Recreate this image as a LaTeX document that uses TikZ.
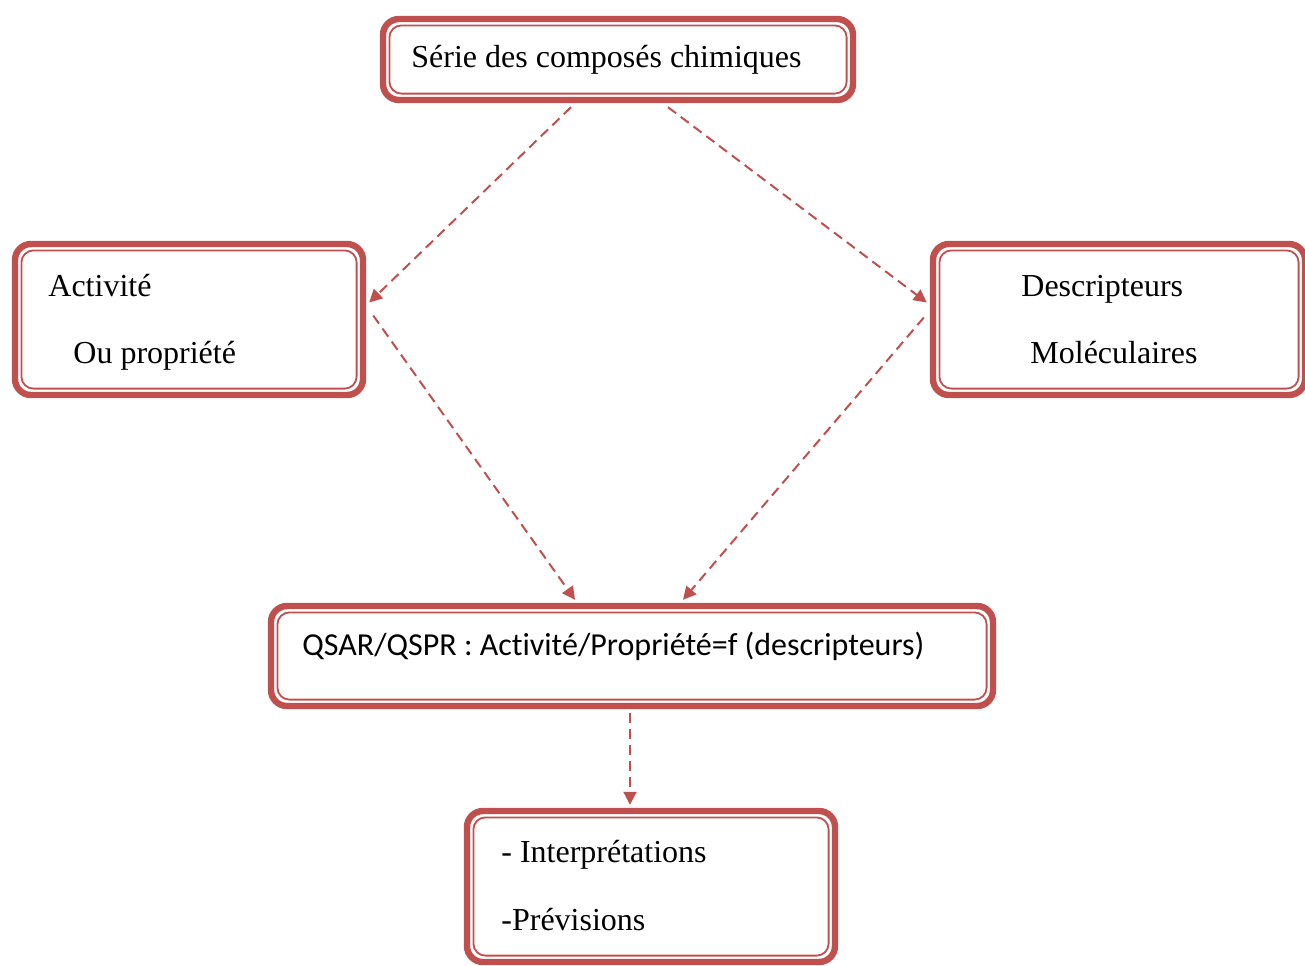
\documentclass[tikz,border=0pt]{standalone}
\usepackage{fontspec}
\setmainfont{Liberation Serif}
\newfontfamily\calibri[Ligatures=NoCommon]{Carlito}
\usetikzlibrary{arrows.meta}
\definecolor{qred}{HTML}{C0504D}
\tikzset{
  qbox/.style={draw=qred,line width=3.2pt,rounded corners=8pt,minimum width=#1,inner sep=0pt,
    path picture={\draw[qred,line width=0.9pt,rounded corners=6pt]
      ([shift={(3.2pt,3.2pt)}]path picture bounding box.south west) rectangle ([shift={(-3.2pt,-3.2pt)}]path picture bounding box.north east);}},
  qtxt/.style={anchor=base west,inner sep=0pt,font=\fontsize{16}{19}\selectfont},
  qarr/.style={draw=qred,line width=1pt,dash pattern=on 5pt off 3pt,-{Triangle[width=6.5pt,length=6.5pt]}}
}
\begin{document}
\begin{tikzpicture}[x=0.5pt,y=-0.5pt]
\useasboundingbox (0,0) rectangle (1305,965);
% boxes
\node[qbox=235pt,minimum height=40.5pt] (serie) at (618,59.5) {};
\node[qbox=174pt,minimum height=75.5pt] (activ) at (189,319.5) {};
\node[qbox=186pt,minimum height=75.5pt] (descr) at (1119,319.5) {};
\node[qbox=361pt,minimum height=50pt] (qsar) at (632,656) {};
\node[qbox=184pt,minimum height=75.5pt] (interp) at (651,886.5) {};
% texts
\node[qtxt] (tserie) at (411,67) {Série des composés chimiques};
\node[qtxt] (tactiv1) at (48,296) {Activité};
\node[qtxt] (tactiv2) at (73,363) {Ou propriété};
\node[qtxt] (tdescr1) at (1021,296) {Descripteurs};
\node[qtxt] (tdescr2) at (1030,363) {Moléculaires};
\node[qtxt,font=\fontsize{16}{19}\calibri] (tqsar) at (302,655) {QSAR/QSPR : Activité/Propriété=f (descripteurs)};
\node[qtxt] (tinterp1) at (501,862) {- Interprétations};
\node[qtxt] (tinterp2) at (501,930) {-Prévisions};
% arrows
\draw[qarr] ([xshift=-23.5pt,yshift=-2pt]serie.south) -- ([xshift=1.5pt,yshift=8.5pt]activ.east);
\draw[qarr] ([xshift=25pt,yshift=-2pt]serie.south) -- ([xshift=-1.5pt,yshift=8.5pt]descr.west);
\draw[qarr] ([xshift=3.5pt,yshift=2pt]activ.east) -- ([xshift=-28.5pt,yshift=1.5pt]qsar.north);
\draw[qarr] ([xshift=-3pt,yshift=1pt]descr.west) -- ([xshift=25.5pt,yshift=1.5pt]qsar.north);
\draw[qarr] ([xshift=-1pt,yshift=-2pt]qsar.south) -- ([xshift=-10.5pt,yshift=1.5pt]interp.north);
\end{tikzpicture}
\end{document}
